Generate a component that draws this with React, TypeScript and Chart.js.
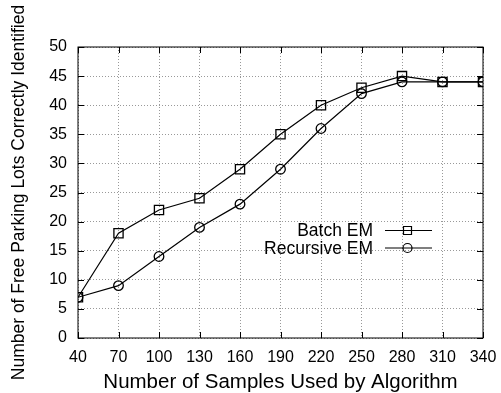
import React, { useEffect, useRef } from "react";
import { Chart, registerables } from "chart.js";

Chart.register(...registerables);

const samples = [40, 70, 100, 130, 160, 190, 220, 250, 280, 310, 340];
const batchEM = [7, 18, 22, 24, 29, 35, 40, 43, 45, 44, 44];
const recursiveEM = [7, 9, 14, 19, 23, 29, 36, 42, 44, 44, 44];
const seriesNames = ["Batch EM", "Recursive EM"];
const xTitle = "Number of Samples Used by Algorithm";
const yTitle = "Number of Free Parking Lots Correctly Identified";

const FONT = "'Liberation Sans', Arial, sans-serif";

const framePlugin = {
  id: "frame",
  afterDatasetsDraw(chart: any) {
    const { ctx, chartArea: a, scales } = chart;
    ctx.save();
    ctx.strokeStyle = "#000";
    ctx.lineWidth = 1;
    ctx.strokeRect(a.left, a.top, a.right - a.left, a.bottom - a.top);
    const t = 6;
    ctx.beginPath();
    for (const v of scales.x.ticks) {
      const px = Math.round(scales.x.getPixelForValue(v.value)) + 0.5;
      ctx.moveTo(px, a.bottom);
      ctx.lineTo(px, a.bottom - t);
      ctx.moveTo(px, a.top);
      ctx.lineTo(px, a.top + t);
    }
    for (const v of scales.y.ticks) {
      const py = Math.round(scales.y.getPixelForValue(v.value)) + 0.5;
      ctx.moveTo(a.left, py);
      ctx.lineTo(a.left + t, py);
      ctx.moveTo(a.right, py);
      ctx.lineTo(a.right - t, py);
    }
    ctx.stroke();

    // legend
    ctx.font = `17.5px ${FONT}`;
    ctx.fillStyle = "#000";
    ctx.textAlign = "right";
    ctx.textBaseline = "middle";
    const rows = [230.5, 248];
    chart.data.datasets.forEach((ds: any, i: number) => {
      const y = rows[i];
      ctx.fillText(ds.label, 373, y + 1);
      ctx.beginPath();
      ctx.lineWidth = 1.2;
      ctx.moveTo(385, y);
      ctx.lineTo(432, y);
      ctx.stroke();
      ctx.beginPath();
      if (ds.pointStyle === "rect") {
        ctx.rect(403.5, y - 4, 8, 8);
      } else {
        ctx.arc(407.5, y, 4.5, 0, Math.PI * 2);
      }
      ctx.stroke();
    });
    ctx.restore();
  },
};

export default function App() {
  const ref = useRef<HTMLCanvasElement>(null);
  useEffect(() => {
    if (!ref.current) return;
    const chart = new Chart(ref.current, {
      type: "line",
      data: {
        datasets: [
          {
            label: seriesNames[0],
            data: samples.map((x, i) => ({ x, y: batchEM[i] })),
            borderColor: "#000",
            borderWidth: 1.2,
            pointStyle: "rect",
            pointRadius: 6.5,
            pointBorderWidth: 1.3,
            pointBackgroundColor: "rgba(0,0,0,0)",
            pointBorderColor: "#000",
          },
          {
            label: seriesNames[1],
            data: samples.map((x, i) => ({ x, y: recursiveEM[i] })),
            borderColor: "#000",
            borderWidth: 1.2,
            pointStyle: "circle",
            pointRadius: 4.8,
            pointBorderWidth: 1.3,
            pointBackgroundColor: "rgba(0,0,0,0)",
            pointBorderColor: "#000",
          },
        ],
      },
      options: {
        animation: false,
        responsive: false,
        layout: { padding: { top: 47, right: 18, left: 0, bottom: 0 } },
        plugins: { legend: { display: false }, tooltip: { enabled: false } },
        scales: {
          x: {
            type: "linear",
            min: 40,
            max: 340,
            afterBuildTicks: (s: any) => {
              s.ticks = samples.map((v) => ({ value: v }));
            },
            afterFit: (s: any) => {
              s.height = 55;
              s.paddingLeft = 0;
              s.paddingRight = 0;
            },
            ticks: {
              color: "#000",
              font: { family: FONT, size: 16 },
              padding: 10,
              maxRotation: 0,
            },
            grid: { color: "#999", drawTicks: false, lineWidth: 1 },
            border: { display: false, dash: [1, 2] },
            title: {
              display: true,
              text: xTitle,
              color: "#000",
              font: { family: FONT, size: 20.5, lineHeight: 1 },
              padding: { top: 0, bottom: 0 },
            },
          },
          y: {
            min: 0,
            max: 50,
            ticks: {
              stepSize: 5,
              color: "#000",
              font: { family: FONT, size: 16 },
              padding: 11,
            },
            afterFit: (s: any) => {
              s.width = 78;
            },
            grid: { color: "#999", drawTicks: false, lineWidth: 1 },
            border: { display: false, dash: [1, 2] },
            title: {
              display: true,
              text: yTitle,
              color: "#000",
              font: { family: FONT, size: 17.5, lineHeight: 1.2 },
              padding: { top: 8.5, bottom: 0 },
            },
          },
        },
      },
      plugins: [framePlugin],
    });
    return () => chart.destroy();
  }, []);
  return (
    <div style={{ position: "fixed", left: 0, top: 0, width: 501, height: 393, background: "#fff" }}>
      <canvas ref={ref} width={501} height={393} />
    </div>
  );
}
